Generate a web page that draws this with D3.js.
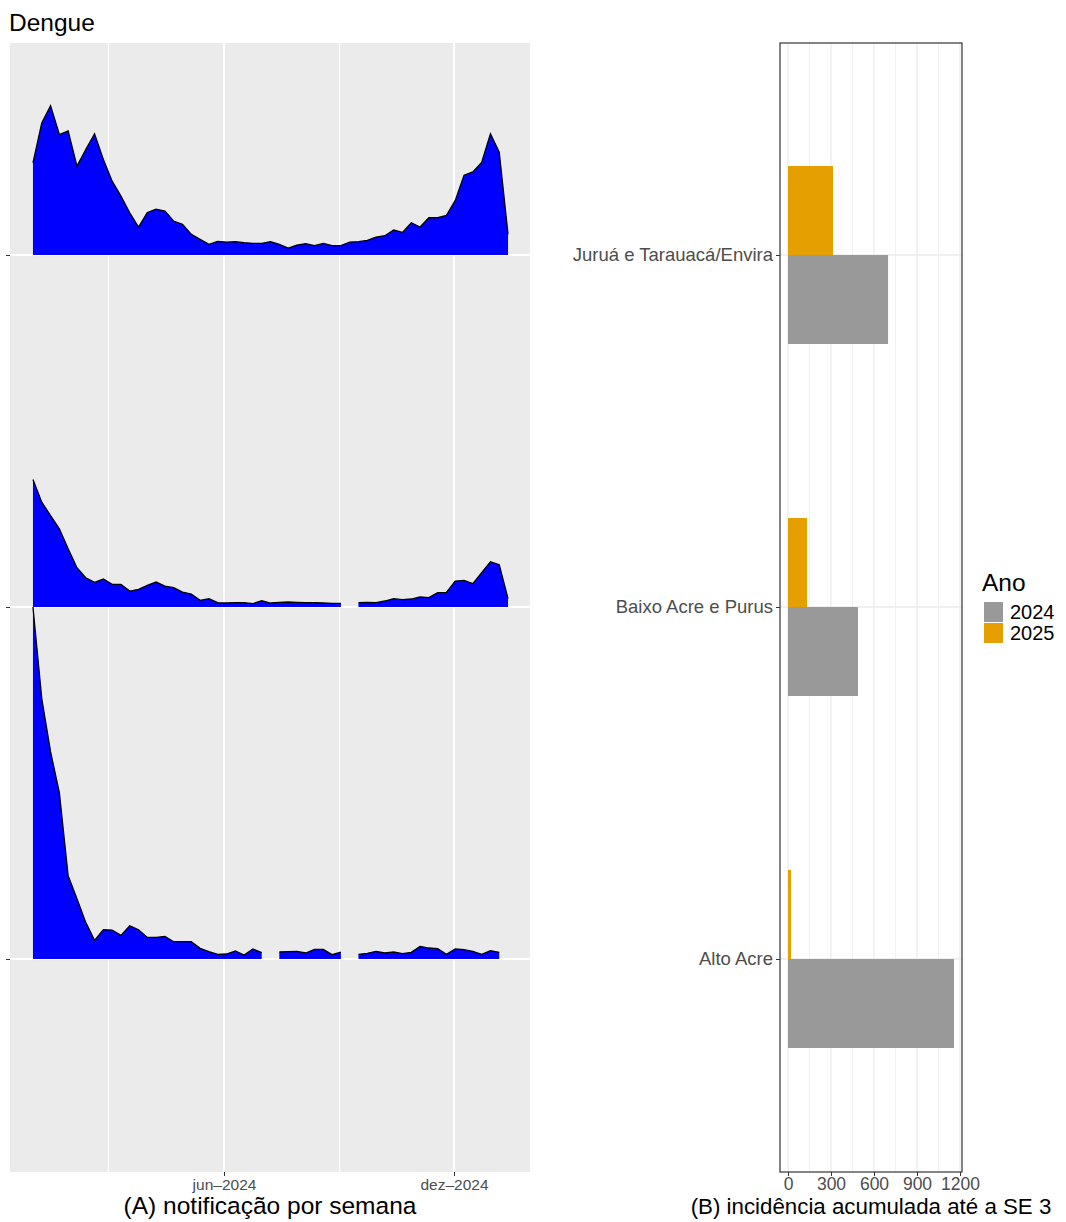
<!DOCTYPE html>
<html>
<head>
<meta charset="utf-8">
<script src="https://cdn.jsdelivr.net/npm/d3@7"></script>
<style>
body { margin: 0; background: #fff; }
text { font-family: "Liberation Sans", Arial, sans-serif; }
</style>
</head>
<body>
<div id="container"></div>
<script>
// regions, bottom to top
const regions = ["Alto Acre", "Baixo Acre e Purus", "Juruá e Tarauacá/Envira"];
// weekly notifications (relative units), null = missing week
const jurua = [277,397,449,362,373,267,317,364,287,222,177,127,84,128,138,132,102,92,62,47,32,41,39,40,37,35,35,40,32,21,30,34,28,35,28,28,39,40,44,54,58,75,68,97,84,112,112,119,164,240,250,278,364,309,62];
const baixo = [383,315,275,235,175,118,88,74,84,68,68,48,53,65,75,63,58,45,39,20,25,13,12,13,13,10,19,12,14,15,14,13,13,12,11,11,null,13,14,13,18,25,22,24,30,28,43,44,78,80,70,103,136,127,25];
const alto = [1058,783,623,500,250,181,110,56,88,87,71,100,88,65,65,68,52,52,52,32,22,14,15,24,12,30,19,null,21,22,23,18,29,29,13,21,null,14,17,23,18,21,16,20,38,33,31,14,30,28,23,14,25,20,null];
const seriesByRegion = {"Alto Acre": alto, "Baixo Acre e Purus": baixo, "Juruá e Tarauacá/Envira": jurua};
const startWeek = new Date(2024, 0, 1);
const weeks = d3.range(55).map(i => d3.timeDay.offset(startWeek, i * 7));
// cumulative incidence up to SE 3
const years = ["2024", "2025"];
const inc2024 = [1158, 488, 698];
const inc2025 = [21, 133, 314];
const yearColors = ["#999999", "#E69F00"];
const xTicksB = [0, 300, 600, 900, 1200];

const W = 1066, H = 1222;
const svg = d3.create("svg").attr("width", W).attr("height", H);
const tickFont = "Liberation Sans, Arial, sans-serif";

// ---------- panel A ----------
const A = {l: 10, r: 530, t: 43, b: 1172};
svg.append("text").attr("x", 9).attr("y", 31).attr("font-size", 24.5).text("Dengue");
svg.append("rect").attr("x", A.l).attr("y", A.t).attr("width", A.r - A.l).attr("height", A.b - A.t).attr("fill", "#EBEBEB");

// jun-2024 sits at 224, dez-2024 at 454
const xs = d3.scaleTime().domain([new Date(2024, 5, 1), new Date(2024, 11, 1)]).range([224, 454]);
const x = d3.scaleTime().domain([xs.invert(A.l), xs.invert(A.r)]).range([A.l, A.r]);

const yBase = d3.scalePoint().domain(regions).range([959, 255]);
const unit = 352 / 1058; // px per value unit (max ridge fills one spacing)

// grid
[new Date(2024, 2, 1), new Date(2024, 8, 1)].forEach(d =>
  svg.append("line").attr("x1", x(d)).attr("x2", x(d)).attr("y1", A.t).attr("y2", A.b).attr("stroke", "#fff").attr("stroke-width", 1.2));
const majors = [new Date(2024, 5, 1), new Date(2024, 11, 1)];
majors.forEach(d =>
  svg.append("line").attr("x1", x(d)).attr("x2", x(d)).attr("y1", A.t).attr("y2", A.b).attr("stroke", "#fff").attr("stroke-width", 2));
regions.forEach(r =>
  svg.append("line").attr("x1", A.l).attr("x2", A.r).attr("y1", yBase(r)).attr("y2", yBase(r)).attr("stroke", "#fff").attr("stroke-width", 2));

// ridges, top first so lower ones overlay
regions.slice().reverse().forEach(r => {
  const vals = seriesByRegion[r];
  const data = weeks.map((d, i) => ({d, v: vals[i]}));
  const base = yBase(r);
  const area = d3.area().defined(p => p.v != null)
      .x(p => x(p.d)).y0(base).y1(p => base - p.v * unit);
  const line = d3.line().defined(p => p.v != null)
      .x(p => x(p.d)).y(p => base - p.v * unit);
  svg.append("path").datum(data).attr("d", area).attr("fill", "#0000FF");
  svg.append("path").datum(data).attr("d", line).attr("fill", "none").attr("stroke", "#000").attr("stroke-width", 1.3);
});

// axes A
const axA = svg.append("g").attr("transform", `translate(0,${A.b})`)
  .call(d3.axisBottom(x).tickValues(majors).tickSize(4).tickPadding(3)
    .tickFormat(d => (d.getMonth() === 5 ? "jun" : "dez") + "\u2013" + d.getFullYear()));
axA.select(".domain").remove();
axA.selectAll("line").attr("stroke", "#333");
axA.selectAll("text").attr("fill", "#4D4D4D").attr("font-size", 15.5).attr("font-family", tickFont);
const ayA = svg.append("g").attr("transform", `translate(${A.l},0)`)
  .call(d3.axisLeft(yBase).tickSize(4).tickFormat(""));
ayA.select(".domain").remove();
ayA.selectAll("line").attr("stroke", "#333");
svg.append("text").attr("x", (A.l + A.r) / 2).attr("y", 1214).attr("text-anchor", "middle").attr("font-size", 24.5).text("(A) notificação por semana");

// ---------- panel B ----------
const B = {l: 780, r: 962, t: 43, b: 1172};
const xb = d3.scaleLinear().domain([0, 1200]).range([788, 960]);
const yb = d3.scalePoint().domain(regions).range([959, 255]);
const barH = 89;

d3.range(0, 1201, 150).forEach(v => {
  svg.append("line").attr("x1", xb(v)).attr("x2", xb(v)).attr("y1", B.t).attr("y2", B.b)
    .attr("stroke", "#EBEBEB").attr("stroke-width", v % 300 === 0 ? 1.3 : 0.7);
});
regions.forEach(r =>
  svg.append("line").attr("x1", B.l).attr("x2", B.r).attr("y1", yb(r)).attr("y2", yb(r)).attr("stroke", "#EBEBEB").attr("stroke-width", 1.3));

svg.append("g").selectAll("rect").data(regions).join("rect")
  .attr("x", xb(0)).attr("y", d => yb(d)).attr("height", barH)
  .attr("width", (d, i) => xb(inc2024[i]) - xb(0)).attr("fill", yearColors[0]);
svg.append("g").selectAll("rect").data(regions).join("rect")
  .attr("x", xb(0)).attr("y", d => yb(d) - barH).attr("height", barH)
  .attr("width", (d, i) => xb(inc2025[i]) - xb(0)).attr("fill", yearColors[1]);

svg.append("rect").attr("x", B.l).attr("y", B.t).attr("width", B.r - B.l).attr("height", B.b - B.t)
  .attr("fill", "none").attr("stroke", "#333").attr("stroke-width", 1.2);

const axB = svg.append("g").attr("transform", `translate(0,${B.b})`)
  .call(d3.axisBottom(xb).tickValues(xTicksB).tickFormat(d3.format("d")).tickSize(4).tickPadding(2));
axB.select(".domain").remove();
axB.selectAll("line").attr("stroke", "#333");
axB.selectAll("text").attr("fill", "#4D4D4D").attr("font-size", 17.5).attr("font-family", tickFont);
const ayB = svg.append("g").attr("transform", `translate(${B.l},0)`)
  .call(d3.axisLeft(yb).tickSize(4));
ayB.select(".domain").remove();
ayB.selectAll("line").attr("stroke", "#333");
ayB.selectAll("text").attr("fill", "#4D4D4D").attr("font-size", 18.5).attr("font-family", tickFont);
svg.append("text").attr("x", 871).attr("y", 1214).attr("text-anchor", "middle").attr("font-size", 22.3).text("(B) incidência acumulada até a SE 3");

// legend
svg.append("text").attr("x", 982).attr("y", 591).attr("font-size", 24.5).text("Ano");
years.forEach((yr, i) => {
  svg.append("rect").attr("x", 984).attr("y", 602 + i * 21).attr("width", 19).attr("height", 20).attr("fill", yearColors[i]);
  svg.append("text").attr("x", 1010).attr("y", 619 + i * 21).attr("font-size", 20).text(yr);
});

container.append(svg.node());
</script>
</body>
</html>
